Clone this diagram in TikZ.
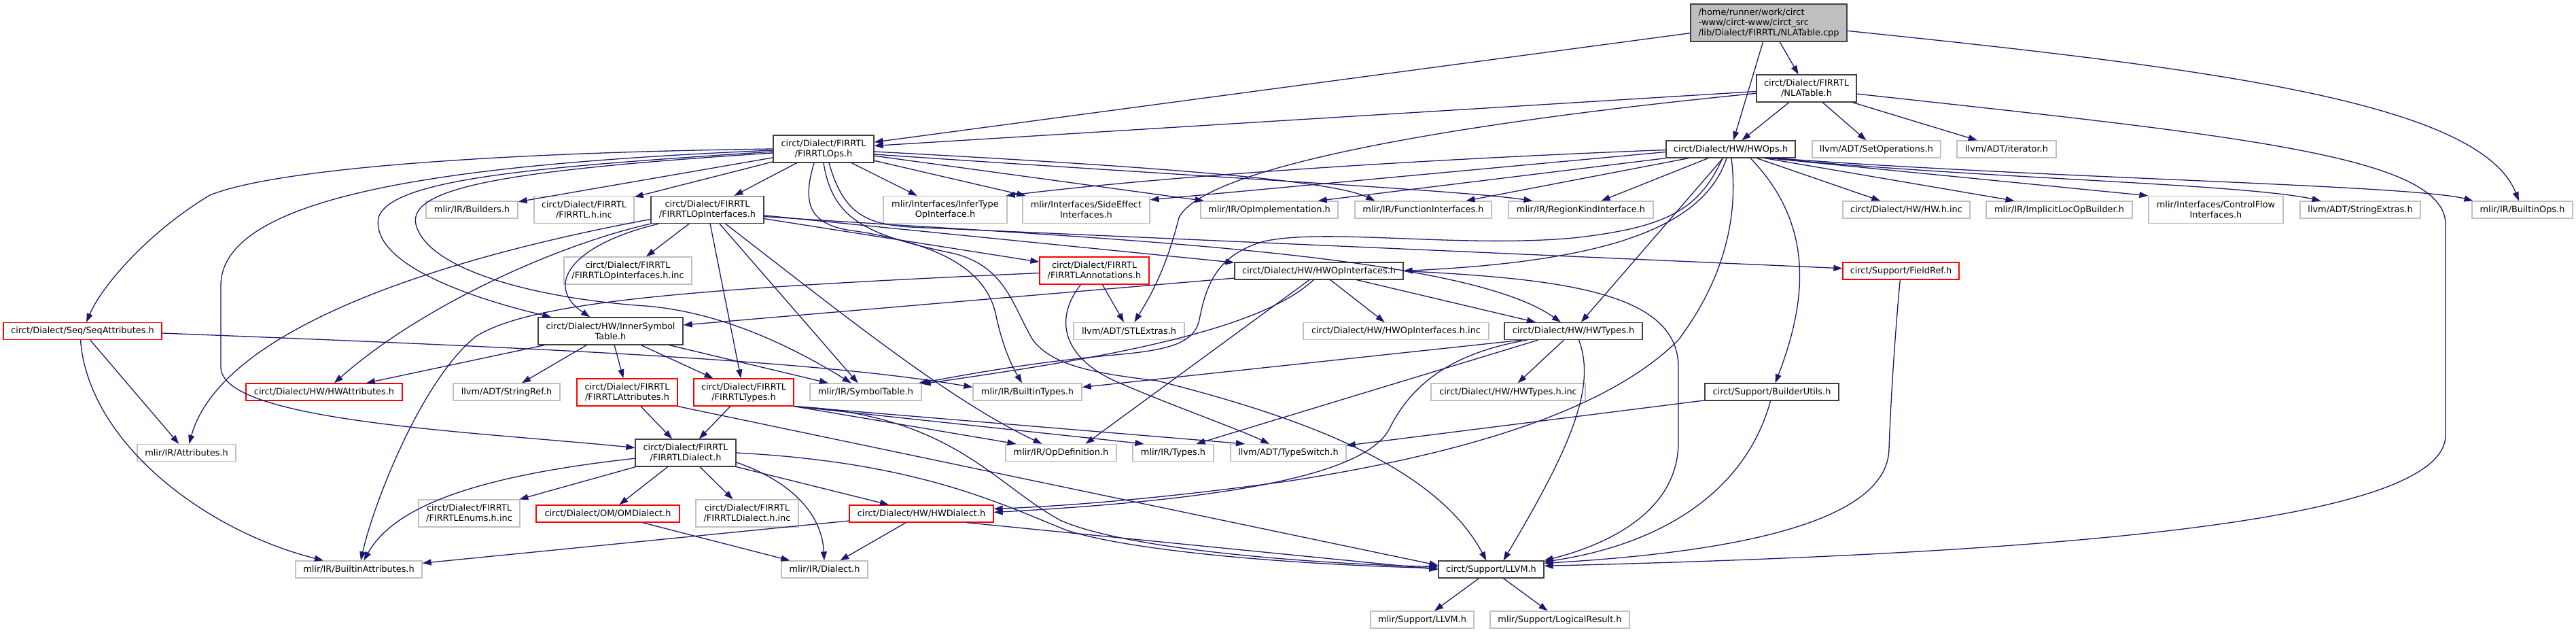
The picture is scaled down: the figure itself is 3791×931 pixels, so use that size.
\documentclass[tikz,border=0pt]{standalone}
\usepackage{fontspec}
\setmainfont{DejaVu Sans}
\usetikzlibrary{arrows.meta}
\definecolor{incblue}{HTML}{191970}
\definecolor{docgrey}{HTML}{404040}
\definecolor{extgrey}{HTML}{BFBFBF}

\begin{document}
\begin{tikzpicture}[x=1pt, y=-1pt,
  every node/.style={font=\fontsize{12.9}{15}\selectfont},
  hfile/.style={rectangle, draw=#1, line width=1.3pt, inner sep=0pt, align=center, minimum height=25pt},
  doc/.style={hfile=docgrey},
  ext/.style={hfile=extgrey},
  trunc/.style={hfile=red},
  tall/.style={minimum height=40pt},
  inc/.style={draw=incblue, line width=1.3pt, -{Triangle[length=13pt, width=9pt]}}]
  \useasboundingbox (0,0) rectangle (3791,931);

  % Source file
  \node[doc, fill=extgrey, minimum width=230pt, minimum height=55pt, align=left] (root) at (2603,33.5) {/home/runner/work/circt\\-www/circt-www/circt\_src\\/lib/Dialect/FIRRTL/NLATable.cpp};
  \node[doc, tall, minimum width=147pt] (nla) at (2658.5,130) {circt/Dialect/FIRRTL\\/NLATable.h};

  % Row 2
  \node[doc, tall, minimum width=148pt] (firops) at (1212,219) {circt/Dialect/FIRRTL\\/FIRRTLOps.h};
  \node[doc, minimum width=190pt] (hwops) at (2547,219.5) {circt/Dialect/HW/HWOps.h};
  \node[ext, minimum width=189pt] (setops) at (2761.5,219.5) {llvm/ADT/SetOperations.h};
  \node[ext, minimum width=146pt] (iter) at (2953,219.5) {llvm/ADT/iterator.h};

  % Row 3
  \node[ext, minimum width=135pt] (builders) at (694.5,308.5) {mlir/IR/Builders.h};
  \node[ext, tall, minimum width=147pt] (firinc) at (859.5,308.5) {circt/Dialect/FIRRTL\\/FIRRTL.h.inc};
  \node[doc, tall, minimum width=166pt] (firopif) at (1041,308.5) {circt/Dialect/FIRRTL\\/FIRRTLOpInterfaces.h};
  \node[ext, tall, minimum width=182pt] (infer) at (1391,308.5) {mlir/Interfaces/InferType\\OpInterface.h};
  \node[ext, tall, minimum width=187pt] (sideeff) at (1598.5,308.5) {mlir/Interfaces/SideEffect\\Interfaces.h};
  \node[ext, minimum width=202pt] (opimpl) at (1868,308.5) {mlir/IR/OpImplementation.h};
  \node[ext, minimum width=201pt] (funcif) at (2094.5,308.5) {mlir/IR/FunctionInterfaces.h};
  \node[ext, minimum width=213pt] (regkind) at (2326.5,308.5) {mlir/IR/RegionKindInterface.h};
  \node[ext, minimum width=187pt] (hwinc) at (2805.5,308.5) {circt/Dialect/HW/HW.h.inc};
  \node[ext, minimum width=215pt] (implicit) at (3030.5,308.5) {mlir/IR/ImplicitLocOpBuilder.h};
  \node[ext, tall, minimum width=198pt] (ctrlflow) at (3261,308.5) {mlir/Interfaces/ControlFlow\\Interfaces.h};
  \node[ext, minimum width=177pt] (strext) at (3473.5,308.5) {llvm/ADT/StringExtras.h};
  \node[ext, minimum width=148pt] (builtinops) at (3712,308.5) {mlir/IR/BuiltinOps.h};

  % Row 4
  \node[ext, tall, minimum width=188pt] (firopifinc) at (924,398) {circt/Dialect/FIRRTL\\/FIRRTLOpInterfaces.h.inc};
  \node[trunc, tall, minimum width=161pt] (annot) at (1610.5,398) {circt/Dialect/FIRRTL\\/FIRRTLAnnotations.h};
  \node[doc, minimum width=248pt] (hwopif) at (1941,398.5) {circt/Dialect/HW/HWOpInterfaces.h};
  \node[trunc, minimum width=171pt] (fieldref) at (2797.5,398.5) {circt/Support/FieldRef.h};

  % Row 5
  \node[trunc, minimum width=233pt] (seqattr) at (121.5,487) {circt/Dialect/Seq/SeqAttributes.h};
  \node[doc, tall, minimum width=213pt] (innersym) at (898.5,487) {circt/Dialect/HW/InnerSymbol\\Table.h};
  \node[ext, minimum width=163pt] (stlext) at (1661.5,487) {llvm/ADT/STLExtras.h};
  \node[ext, minimum width=273pt] (hwopifinc) at (2054.5,487) {circt/Dialect/HW/HWOpInterfaces.h.inc};
  \node[doc, minimum width=203pt] (hwtypes) at (2315.5,487) {circt/Dialect/HW/HWTypes.h};

  % Row 6
  \node[trunc, minimum width=230pt] (hwattr) at (477,576.5) {circt/Dialect/HW/HWAttributes.h};
  \node[ext, minimum width=157pt] (strref) at (745.5,576.5) {llvm/ADT/StringRef.h};
  \node[trunc, tall, minimum width=148pt] (firattr) at (923,577) {circt/Dialect/FIRRTL\\/FIRRTLAttributes.h};
  \node[trunc, tall, minimum width=147pt] (firtypes) at (1094.5,577) {circt/Dialect/FIRRTL\\/FIRRTLTypes.h};
  \node[ext, minimum width=164pt] (symtab) at (1274,576.5) {mlir/IR/SymbolTable.h};
  \node[ext, minimum width=160pt] (builtintypes) at (1512,576.5) {mlir/IR/BuiltinTypes.h};
  \node[ext, minimum width=227pt] (hwtypesinc) at (2219.5,576.5) {circt/Dialect/HW/HWTypes.h.inc};
  \node[doc, minimum width=197pt] (builderutils) at (2607.5,576.5) {circt/Support/BuilderUtils.h};

  % Row 7
  \node[ext, minimum width=145pt] (attrs) at (274.5,666) {mlir/IR/Attributes.h};
  \node[doc, tall, minimum width=148pt] (firdialect) at (1009,666) {circt/Dialect/FIRRTL\\/FIRRTLDialect.h};
  \node[ext, minimum width=163pt] (opdef) at (1561.5,666) {mlir/IR/OpDefinition.h};
  \node[ext, minimum width=119pt] (types) at (1726.5,666) {mlir/IR/Types.h};
  \node[ext, minimum width=170pt] (typeswitch) at (1896,666) {llvm/ADT/TypeSwitch.h};

  % Row 8
  \node[ext, tall, minimum width=149pt] (firenums) at (690.5,755) {circt/Dialect/FIRRTL\\/FIRRTLEnums.h.inc};
  \node[trunc, minimum width=211pt] (omdialect) at (894.5,755.5) {circt/Dialect/OM/OMDialect.h};
  \node[ext, tall, minimum width=151pt] (firdialinc) at (1099.5,755) {circt/Dialect/FIRRTL\\/FIRRTLDialect.h.inc};
  \node[trunc, minimum width=212pt] (hwdialect) at (1356,755.5) {circt/Dialect/HW/HWDialect.h};

  % Row 9 and 10
  \node[ext, minimum width=186pt] (builtinattr) at (528,837.5) {mlir/IR/BuiltinAttributes.h};
  \node[ext, minimum width=127pt] (dialect) at (1213.5,837.5) {mlir/IR/Dialect.h};
  \node[doc, minimum width=155pt] (llvm) at (2194.5,837.5) {circt/Support/LLVM.h};
  \node[ext, minimum width=152pt] (mlirllvm) at (2093,911.5) {mlir/Support/LLVM.h};
  \node[ext, minimum width=205pt] (logres) at (2295.5,911.5) {mlir/Support/LogicalResult.h};

  % Includes of NLATable.cpp
  \draw[inc] (root) -- (firops);
  \draw[inc] (root) -- (hwops);
  \draw[inc] (root) -- (nla);
  \draw[inc] (root) .. controls (3250,100) and (3650,150) .. (builtinops);

  % NLATable.h
  \draw[inc] (nla) -- (firops);
  \draw[inc] (nla) -- (hwops);
  \draw[inc] (nla) -- (setops);
  \draw[inc] (nla) -- (iter);
  \draw[inc] (nla) .. controls (2100,185) and (1770,250) .. (1735,320) .. controls (1715,400) and (1690,440) .. (stlext);
  \draw[inc] (nla) .. controls (3300,200) and (3599,230) .. (3599,330) -- (3599,640) .. controls (3599,760) and (3100,812) .. ([yshift=-8pt]llvm.north east);

  % HWOps.h
  \draw[inc] ([yshift=-1pt]hwops.west) .. controls (2150,232) and (1750,255) .. ([xshift=-2pt]infer.north east);
  \draw[inc] ([yshift=-4pt]hwops.west) -- ([yshift=-6pt]sideeff.north east);
  \draw[inc] (hwops.south west) -- ([xshift=-30pt]opimpl.north east);
  \draw[inc] ([xshift=-62pt]hwops.south) -- ([xshift=63pt]funcif.north);
  \draw[inc] ([xshift=-33pt]hwops.south) -- ([xshift=30pt]regkind.north);
  \draw[inc] ([xshift=-12pt]hwops.south) .. controls (2500,310) and (2450,335) .. (2315,350) .. controls (2150,365) and (1950,335) .. (1860,355) .. controls (1790,375) and (1775,420) .. (1765,470) .. controls (1758,505) and (1720,515) .. (1640,522) .. controls (1500,535) and (1420,552) .. (symtab);
  \draw[inc] ([xshift=-6pt]hwops.south) .. controls (2505,340) and (2350,385) .. (hwopif.east);
  \draw[inc] (hwops) -- (hwtypes);
  \draw[inc] ([xshift=1pt]hwops.south) .. controls (2560,330) and (2530,420) .. (2470,500) .. controls (2380,590) and (2200,660) .. (1900,707) .. controls (1700,735) and (1550,745) .. ([yshift=7pt]hwdialect.east);
  \draw[inc] ([xshift=29pt]hwops.south) .. controls (2670,330) and (2660,440) .. (builderutils);
  \draw[inc] (hwops) -- (hwinc);
  \draw[inc] ([xshift=50pt]hwops.south) -- ([xshift=-66pt]implicit.north);
  \draw[inc] ([xshift=56pt]hwops.south) -- (ctrlflow.north west);
  \draw[inc] ([xshift=61pt]hwops.south) .. controls (2900,262) and (3300,270) .. ([xshift=-58pt]strext.north);
  \draw[inc] ([xshift=66pt]hwops.south) .. controls (3000,262) and (3550,272) .. ([xshift=2pt]builtinops.north west);

  % FIRRTLOps.h
  \draw[inc] (firops.west) .. controls (700,225) and (400,250) .. (309,287) .. controls (220,340) and (150,420) .. (seqattr);
  \draw[inc] ([yshift=-2pt]firops.west) .. controls (700,240) and (325,280) .. (325,420) -- (325,540) .. controls (325,620) and (700,635) .. (firdialect);
  \draw[inc] ([yshift=-4pt]firops.west) .. controls (800,245) and (575,262) .. (557,320) .. controls (545,390) and (700,440) .. (innersym);
  \draw[inc] ([yshift=-6pt]firops.west) .. controls (750,250) and (600,275) .. (612,330) .. controls (630,400) and (800,440) .. (950,450) .. controls (1050,458) and (1150,500) .. (symtab);
  \draw[inc] (firops) -- (builders);
  \draw[inc] (firops) -- (firinc);
  \draw[inc] (firops) -- (firopif);
  \draw[inc] (firops) -- (infer);
  \draw[inc] (firops) -- (sideeff);
  \draw[inc] (firops) -- (opimpl);
  \draw[inc] ([yshift=-4pt]firops.east) .. controls (1700,245) and (1960,265) .. ([xshift=30pt]funcif.north west);
  \draw[inc] ([yshift=-8pt]firops.east) .. controls (1800,262) and (2150,280) .. ([xshift=36pt]regkind.north west);
  \draw[inc] ([xshift=-14pt]firops.south) .. controls (1180,300) and (1190,332) .. (1260,340) .. controls (1390,360) and (1450,400) .. (1465,460) .. controls (1475,510) and (1490,540) .. (builtintypes);
  \draw[inc] (firops.south) .. controls (1225,320) and (1270,345) .. (1400,372) .. controls (1480,390) and (1490,450) .. (1520,500) .. controls (1550,540) and (1620,550) .. (1703,560) .. controls (1900,610) and (2110,680) .. (llvm);
  \draw[inc] ([xshift=8pt]firops.south) .. controls (1240,310) and (1270,330) .. (1340,334) -- (fieldref);

  % FIRRTLOpInterfaces.h
  \draw[inc] ([yshift=-14pt]firopif.west) .. controls (700,370) and (330,470) .. (attrs);
  \draw[inc] (firopif.south west) .. controls (820,360) and (620,450) .. (hwattr);
  \draw[inc] ([xshift=12pt]firopif.south west) .. controls (840,360) and (800,420) .. (innersym);
  \draw[inc] (firopif) -- (firopifinc);
  \draw[inc] (firopif) -- (firtypes);
  \draw[inc] (firopif) -- (symtab);
  \draw[inc] (firopif) .. controls (1250,470) and (1400,590) .. (opdef);
  \draw[inc] (firopif) -- (annot);
  \draw[inc] (firopif) -- (hwopif);
  \draw[inc] ([yshift=-10pt]firopif.east) .. controls (1600,350) and (2150,370) .. (hwtypes);

  % FIRRTLAnnotations.h
  \draw[inc] (annot) .. controls (1000,425) and (780,445) .. (700,495) .. controls (620,560) and (550,740) .. (builtinattr);
  \draw[inc] (annot) -- (stlext);
  \draw[inc] ([xshift=-20pt]annot.south) .. controls (1550,470) and (1565,525) .. (1640,560) .. controls (1720,595) and (1820,630) .. (typeswitch);

  % SeqAttributes.h
  \draw[inc] ([yshift=-3pt]seqattr.east) .. controls (800,512) and (1200,530) .. ([yshift=7pt]builtintypes.west);
  \draw[inc] (seqattr) -- (attrs);
  \draw[inc] ([xshift=-3pt]seqattr.south) .. controls (130,650) and (300,780) .. (builtinattr);

  % InnerSymbolTable.h
  \draw[inc] (innersym) -- (hwattr);
  \draw[inc] (innersym) -- (strref);
  \draw[inc] (innersym) -- (firattr);
  \draw[inc] (innersym) -- (firtypes);
  \draw[inc] (innersym) -- (symtab);

  % HWOpInterfaces.h
  \draw[inc] (hwopif) -- (innersym);
  \draw[inc] ([xshift=-8pt]hwopif.south) .. controls (1850,490) and (1600,530) .. (symtab);
  \draw[inc] ([xshift=-14pt]hwopif.south) -- ([xshift=36pt]opdef.north);
  \draw[inc] (hwopif) -- (hwopifinc);
  \draw[inc] (hwopif) -- (hwtypes);
  \draw[inc] (hwopif.east) .. controls (2300,410) and (2470,430) .. (2470,540) -- (2470,650) .. controls (2470,760) and (2350,805) .. (llvm.north east);

  % FieldRef.h and BuilderUtils.h
  \draw[inc] (fieldref) .. controls (2788,500) and (2782,600) .. (2780,660) .. controls (2778,780) and (2500,815) .. ([yshift=-4pt]llvm.north east);
  \draw[inc] (builderutils) -- (typeswitch);
  \draw[inc] ([xshift=-2pt]builderutils.south) .. controls (2570,720) and (2450,800) .. ([yshift=-2pt]llvm.north east);

  % HWTypes.h
  \draw[inc] (hwtypes) -- (hwtypesinc);
  \draw[inc] ([xshift=-76pt]hwtypes.south) -- ([yshift=7pt]builtintypes.east);
  \draw[inc] ([xshift=-52pt]hwtypes.south) -- ([xshift=34pt]types.north);
  \draw[inc] ([xshift=-68pt]hwtypes.south) .. controls (2130,520) and (2075,570) .. (2045,630) .. controls (2010,700) and (1800,735) .. ([yshift=2pt]hwdialect.east);
  \draw[inc] ([xshift=8pt]hwtypes.south) .. controls (2350,570) and (2310,660) .. ([xshift=18pt]llvm.north);

  % FIRRTLTypes.h and FIRRTLAttributes.h
  \draw[inc] (firtypes) -- (firdialect);
  \draw[inc] (firtypes.south east) -- ([xshift=-66pt]opdef.north);
  \draw[inc] (firtypes.south east) -- ([xshift=-43pt]types.north);
  \draw[inc] (firtypes.south east) -- ([xshift=-64pt]typeswitch.north);
  \draw[inc] (firtypes.south east) .. controls (1400,610) and (1460,710) .. (1560,765) .. controls (1660,810) and (1950,830) .. ([yshift=4pt]llvm.west);
  \draw[inc] (firattr) -- (firdialect);
  \draw[inc] (firattr.south east) -- ([yshift=6pt]llvm.west);

  % FIRRTLDialect.h
  \draw[inc] (firdialect) .. controls (700,700) and (580,745) .. (builtinattr);
  \draw[inc] (firdialect) -- (firenums);
  \draw[inc] (firdialect) -- (omdialect);
  \draw[inc] (firdialect) -- (firdialinc);
  \draw[inc] ([yshift=-14pt]firdialect.east) .. controls (1170,710) and (1210,760) .. (dialect);
  \draw[inc] (firdialect.south east) -- ([xshift=-48pt]hwdialect.north);
  \draw[inc] (firdialect.east) .. controls (1350,680) and (1470,740) .. (1570,780) .. controls (1680,815) and (1950,832) .. ([yshift=2pt]llvm.west);

  % Dialect headers
  \draw[inc] (omdialect) -- (dialect);
  \draw[inc] (hwdialect) -- (dialect);
  \draw[inc] (hwdialect) -- (builtinattr);
  \draw[inc] ([xshift=67pt]hwdialect.south) -- (llvm.west);

  % LLVM.h
  \draw[inc] (llvm) -- (mlirllvm);
  \draw[inc] (llvm) -- (logres);
\end{tikzpicture}
\end{document}
